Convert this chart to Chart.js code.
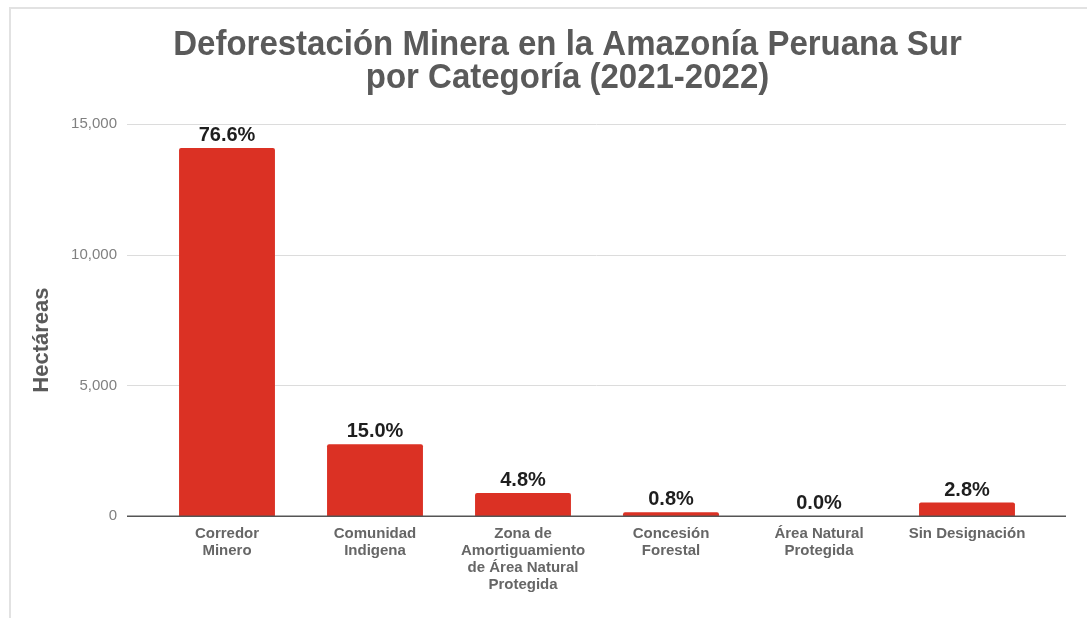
<!DOCTYPE html>
<html>
<head>
<meta charset="utf-8">
<script src="https://cdn.jsdelivr.net/npm/chart.js@4"></script>
<style>
  html, body { margin: 0; padding: 0; background: #ffffff; }
  body { width: 1087px; height: 618px; position: relative; overflow: hidden; }
  #frame { position: absolute; left: 9px; top: 7px; width: 1100px; height: 700px;
           border-top: 2px solid #e2e2e2; border-left: 2px solid #e2e2e2; }
  #wrap { position: absolute; left: 0; top: 0; width: 1087px; height: 618px; }
</style>
</head>
<body>
<div id="frame"></div>
<div id="wrap"><canvas id="c" width="1087" height="618"></canvas></div>
<script>
const titleLines = ["Deforestación Minera en la Amazonía Peruana Sur", "por Categoría (2021-2022)"];
const yAxisTitle = "Hectáreas";
const categories = [
  ["Corredor", "Minero"],
  ["Comunidad", "Indigena"],
  ["Zona de", "Amortiguamiento", "de Área Natural", "Protegida"],
  ["Concesión", "Forestal"],
  ["Área Natural", "Protegida"],
  ["Sin Designación"]
];
const hectares = [14080, 2750, 890, 150, 5, 520];
const percentages = [76.6, 15.0, 4.8, 0.8, 0.0, 2.8];
const yTicks = [0, 5000, 10000, 15000];

const FONT = '"Liberation Sans", Arial, sans-serif';

const decorPlugin = {
  id: 'decor',
  beforeDatasetsDraw(chart) {
    const ctx = chart.ctx, ys = chart.scales.y, a = chart.chartArea;
    ctx.save();
    ctx.lineWidth = 1;
    ctx.strokeStyle = '#dcdcdc';
    yTicks.forEach(v => {
      if (v === 0) return;
      const y = Math.round(ys.getPixelForValue(v)) + 0.5;
      ctx.beginPath(); ctx.moveTo(a.left - 26, y); ctx.lineTo(a.right + 25, y); ctx.stroke();
    });
    ctx.restore();
  },
  afterDatasetsDraw(chart) {
    const ctx = chart.ctx, ys = chart.scales.y, a = chart.chartArea;
    ctx.save();
    ctx.lineWidth = 1.5;
    ctx.strokeStyle = '#555555';
    const y = ys.getPixelForValue(0);
    ctx.beginPath(); ctx.moveTo(a.left - 26, y); ctx.lineTo(a.right + 25, y); ctx.stroke();
    // data labels
    const meta = chart.getDatasetMeta(0);
    ctx.fillStyle = '#1e1e1e';
    ctx.font = 'bold 20px ' + FONT;
    ctx.textAlign = 'center';
    ctx.textBaseline = 'alphabetic';
    meta.data.forEach((bar, i) => {
      ctx.fillText(percentages[i].toFixed(1) + '%', bar.x, bar.y - 7);
    });
    ctx.restore();
  },
  afterDraw(chart) {
    const ctx = chart.ctx, a = chart.chartArea;
    ctx.save();
    // chart title
    ctx.fillStyle = '#5a5a5a';
    ctx.font = 'bold 33px ' + FONT;
    ctx.textAlign = 'center';
    ctx.textBaseline = 'middle';
    const cx = chart.width / 2 + 24;
    titleLines.forEach((t, i) => {
      ctx.save();
      ctx.translate(cx, 45 + i * 33);
      ctx.scale(1, 1.08);
      ctx.fillText(t, 0, 0);
      ctx.restore();
    });
    // y axis title
    ctx.font = 'bold 22px ' + FONT;
    ctx.translate(42, (a.top + a.bottom) / 2 + 20);
    ctx.rotate(-Math.PI / 2);
    ctx.fillText(yAxisTitle, 0, 0);
    ctx.restore();
  }
};

new Chart(document.getElementById('c'), {
  type: 'bar',
  data: {
    labels: categories,
    datasets: [{
      data: hectares,
      backgroundColor: '#db3124',
      borderRadius: 2,
      borderSkipped: 'bottom',
      barPercentage: 0.9,
      categoryPercentage: 0.72
    }]
  },
  options: {
    responsive: false,
    animation: false,
    devicePixelRatio: 1,
    layout: { padding: { left: 0, right: 46, top: 124, bottom: 16 } },
    plugins: {
      legend: { display: false },
      tooltip: { enabled: false },
      title: { display: false }
    },
    scales: {
      x: {
        grid: { display: false, drawTicks: false },
        border: { display: false },
        ticks: {
          color: '#666666',
          font: { family: FONT, size: 15, weight: 'bold', lineHeight: 1.13 },
          padding: 9,
          maxRotation: 0,
          autoSkip: false
        }
      },
      y: {
        min: 0,
        max: 15000,
        afterBuildTicks: s => { s.ticks = yTicks.map(v => ({ value: v })); },
        afterFit: s => { s.width = 153; },
        grid: { display: false, drawTicks: false },
        border: { display: false },
        ticks: {
          color: '#808080',
          font: { family: FONT, size: 15 },
          padding: 36,
          callback: v => v.toLocaleString('en-US')
        }
      }
    }
  },
  plugins: [decorPlugin]
});
</script>
</body>
</html>
